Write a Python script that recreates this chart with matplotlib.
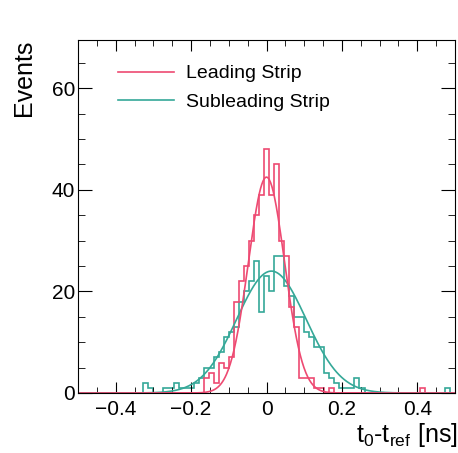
import numpy as np
import matplotlib.pyplot as plt
from matplotlib.ticker import MultipleLocator

plt.rcParams['font.family'] = ['Liberation Sans', 'DejaVu Sans']
plt.rcParams['mathtext.default'] = 'regular'

# 75 bins between -0.5 and 0.5 ns
n_bins = 75
x_range = (-0.5, 0.5)

leading_counts = [
    0, 0, 0, 0, 0, 0, 0, 0, 0, 0, 0, 0, 0, 0, 0,
    0, 0, 0, 0, 0, 0, 0, 0, 0, 0, 3, 4, 2, 6, 5,
    7, 18, 22, 25, 30, 35, 39, 48, 39, 45, 30, 27, 17, 13, 3,
    3, 3, 1, 1, 0, 1, 0, 0, 0, 0, 0, 0, 0, 0, 0,
    0, 0, 0, 0, 0, 0, 0, 0, 1, 0, 0, 0, 0, 0, 0,
]
subleading_counts = [
    0, 0, 0, 0, 0, 0, 0, 0, 0, 0, 0, 0, 0, 2, 1,
    0, 0, 1, 1, 2, 1, 1, 1, 2, 3, 5, 5, 7, 8, 11,
    12, 13, 18, 20, 22, 26, 16, 23, 20, 27, 27, 21, 19, 15, 15,
    12, 11, 9, 9, 4, 3, 2, 1, 1, 1, 3, 1, 0, 0, 0,
    0, 0, 0, 0, 0, 0, 0, 0, 0, 0, 0, 0, 0, 1, 0,
]

# gaussian fit results (amplitude, mean, sigma)
leading_fit = (42.5, 0.0, 0.048)
subleading_fit = (24.0, 0.013, 0.092)

red = '#ee4a72'
teal = '#35a898'


def gauss(x, amp, mu, sigma):
    return amp * np.exp(-0.5 * ((x - mu) / sigma) ** 2)


edges = np.linspace(x_range[0], x_range[1], n_bins + 1)
x_fit = np.linspace(x_range[0], x_range[1], 600)

fig = plt.figure(figsize=(4.58, 4.53), dpi=100)
ax = fig.add_axes([78 / 458, 1 - 393 / 453, 377 / 458, 353 / 453])

ax.stairs(subleading_counts, edges, color=teal, lw=1.2)
ax.plot(x_fit, gauss(x_fit, *subleading_fit), color=teal, lw=1.2, label='Subleading Strip')
ax.stairs(leading_counts, edges, color=red, lw=1.2)
ax.plot(x_fit, gauss(x_fit, *leading_fit), color=red, lw=1.2, label='Leading Strip')

ax.set_xlim(x_range)
ax.set_ylim(0, 69.5)
ax.xaxis.set_major_locator(MultipleLocator(0.2))
ax.xaxis.set_minor_locator(MultipleLocator(0.05))
ax.yaxis.set_major_locator(MultipleLocator(20))
ax.yaxis.set_minor_locator(MultipleLocator(5))
ax.set_xticks([-0.4, -0.2, 0, 0.2, 0.4])
ax.set_xticklabels(['\u22120.4', '\u22120.2', '0', '0.2', '0.4'])
ax.tick_params(which='both', direction='in', top=True, right=True, labelsize=15)
ax.tick_params(axis='x', which='major', length=8, pad=5)
ax.tick_params(axis='x', which='minor', length=4)
ax.tick_params(axis='y', which='major', length=10, pad=2)
ax.tick_params(axis='y', which='minor', length=5)

ax.set_ylabel('Events', fontsize=18, loc='top')
ax.yaxis.set_label_coords(-0.112, 1.0)
ax.set_xlabel('t$_{0}$-t$_{ref}$ [ns]', fontsize=18, loc='right')
ax.xaxis.set_label_coords(1.008, -0.078)

handles, labels = ax.get_legend_handles_labels()
ax.legend(handles[::-1], labels[::-1], loc='upper left', bbox_to_anchor=(0.106, 0.93),
          frameon=False, fontsize=14, handlelength=2.9, handletextpad=0.6,
          labelspacing=0.58, borderpad=0, borderaxespad=0)

fig.savefig('out.png', dpi=100)
